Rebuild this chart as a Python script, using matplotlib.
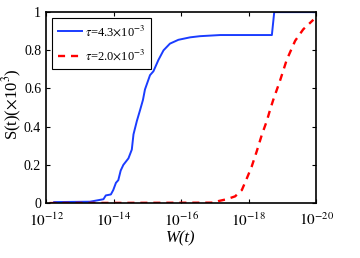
import numpy as np
import matplotlib
matplotlib.use('Agg')
import matplotlib.pyplot as plt

plt.rcParams['font.family'] = ['Liberation Serif', 'DejaVu Serif']
plt.rcParams['mathtext.fontset'] = 'stix'

# exponents of W(t) (log10) and S(t) values
blue_exp = [-12.24, -13.30, -13.70, -13.77, -13.92, -13.99, -14.07, -14.14, -14.21,
            -14.29, -14.44, -14.54, -14.59, -14.69, -14.79, -14.87, -14.93, -15.08,
            -15.18, -15.33, -15.48, -15.67, -15.92, -16.27, -16.56, -17.16, -18.69,
            -18.76, -20.0]
blue_s = [0.005, 0.007, 0.02, 0.04, 0.045, 0.068, 0.106, 0.12, 0.17,
          0.2, 0.234, 0.28, 0.36, 0.43, 0.49, 0.54, 0.595, 0.67,
          0.69, 0.75, 0.80, 0.835, 0.855, 0.868, 0.874, 0.88, 0.88,
          1.0, 1.0]

red_exp = [-12.1, -16.96, -17.10, -17.35, -17.60, -17.80, -17.95, -18.09, -18.24,
           -18.39, -18.54, -18.64, -18.73, -18.93, -19.13, -19.38, -19.62, -19.92]
red_s = [0.0, 0.002, 0.01, 0.02, 0.035, 0.068, 0.13, 0.19, 0.27,
         0.356, 0.43, 0.49, 0.54, 0.64, 0.75, 0.85, 0.91, 0.96]

xticks = [1e-12, 1e-14, 1e-16, 1e-18, 1e-20]
xtick_labels = [r'$10^{-12}$', r'$10^{-14}$', r'$10^{-16}$', r'$10^{-18}$', r'$10^{-20}$']
yticks = [0, 0.2, 0.4, 0.6, 0.8, 1]
ytick_labels = ['0', '0.2', '0.4', '0.6', '0.8', '1']

fig = plt.figure(figsize=(3.6, 2.58), dpi=100)
ax = fig.add_axes([0.128, 0.213, 0.75, 0.74])

ax.plot(10.0 ** np.array(blue_exp), blue_s, color='#1a3cff', lw=1.4,
        label=r'$\tau$=4.3$\times$10$^{-3}$')
ax.plot(10.0 ** np.array(red_exp), red_s, color='#ff0000', lw=1.7, ls=(0, (3, 2.5)),
        label=r'$\tau$=2.0$\times$10$^{-3}$')

ax.set_xscale('log')
ax.set_xlim(1e-12, 1e-20)
ax.set_ylim(0, 1)
ax.set_xticks(xticks)
ax.set_xticklabels(xtick_labels)
ax.xaxis.set_minor_locator(matplotlib.ticker.NullLocator())
ax.set_yticks(yticks)
ax.set_yticklabels(ytick_labels)
ax.tick_params(direction='in', top=True, right=True, labelsize=10, length=3, width=0.8)
ax.tick_params(axis='x', labelsize=11, pad=6)
for s in ax.spines.values():
    s.set_linewidth(1.2)

ax.set_xlabel('W(t)', fontsize=12, style='italic', labelpad=1)
ax.set_ylabel(r'S(t)($\times$10$^3$)', fontsize=12)
ax.yaxis.set_label_coords(-0.08, 0.52)

leg = ax.legend(loc='upper left', fontsize=9, fancybox=False, framealpha=1,
                edgecolor='black', handlelength=1.9, handletextpad=0.3,
                borderpad=0.45, labelspacing=0.75, borderaxespad=0.5)
leg.get_frame().set_linewidth(0.8)

fig.savefig('out.png', dpi=100)
